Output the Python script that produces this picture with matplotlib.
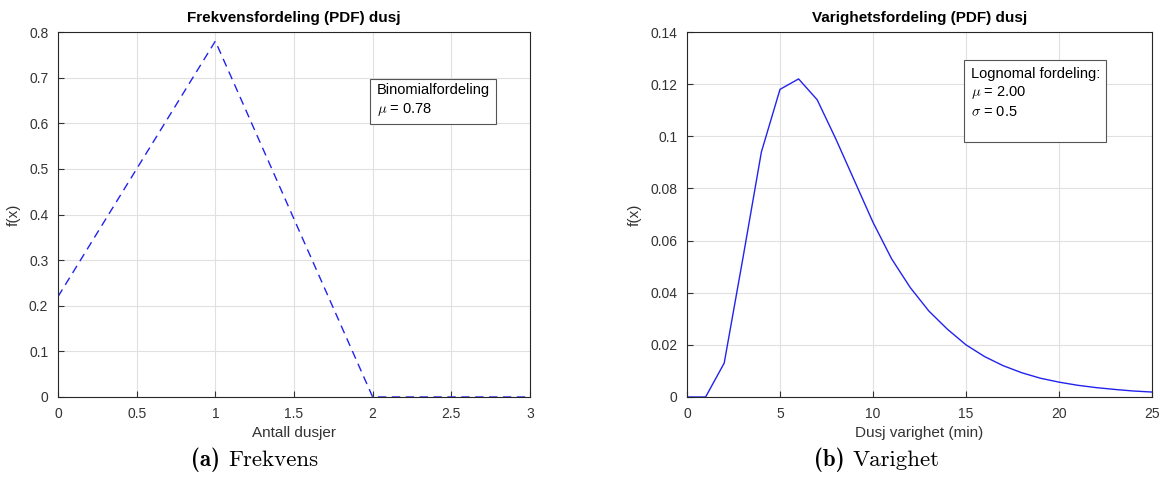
import os
import matplotlib
import matplotlib.pyplot as plt
from matplotlib.font_manager import FontProperties

plt.rcParams['font.family'] = ['Liberation Sans', 'DejaVu Sans']
plt.rcParams['mathtext.fontset'] = 'cm'

# frekvens (binomial)
antall = [0, 1, 2, 3]
frekvens = [0.22, 0.78, 0.0, 0.0]

# varighet (lognormal)
minutter = list(range(26))
varighet = [0.0, 0.0, 0.013, 0.053, 0.094, 0.118, 0.122, 0.114, 0.099, 0.083,
            0.067, 0.053, 0.042, 0.033, 0.026, 0.020, 0.0155, 0.012, 0.0093,
            0.0072, 0.0057, 0.0045, 0.0036, 0.0029, 0.0023, 0.0019]

W, H = 1164, 487
fig = plt.figure(figsize=(W / 100, H / 100), dpi=100)

ttf = os.path.join(matplotlib.get_data_path(), 'fonts', 'ttf')
cm_r = FontProperties(fname=os.path.join(ttf, 'cmr10.ttf'), size=16.5)
cm_b = FontProperties(fname=os.path.join(ttf, 'cmb10.ttf'), size=16.5)

def px_axes(x0, x1, y0, y1):
    return fig.add_axes([x0 / W, 1 - y1 / H, (x1 - x0) / W, (y1 - y0) / H])

def style(ax):
    ax.grid(True, color='#e0e0e0', linewidth=0.8)
    ax.set_axisbelow(True)
    ax.tick_params(direction='in', length=4, labelsize=10, colors='#333333',
                   top=False, right=False, pad=7)
    for s in ax.spines.values():
        s.set_color('#262626')
        s.set_linewidth(0.8)

ax1 = px_axes(58, 530, 32, 397)
ax1.plot(antall, frekvens, '--', color='#2222ee', linewidth=1, dashes=(6, 4))
ax1.set_xlim(0, 3)
ax1.set_ylim(0, 0.8)
ax1.set_xticks([0, 0.5, 1, 1.5, 2, 2.5, 3])
ax1.set_xticklabels(['0', '0.5', '1', '1.5', '2', '2.5', '3'])
ax1.set_yticks([0, 0.1, 0.2, 0.3, 0.4, 0.5, 0.6, 0.7, 0.8])
ax1.set_yticklabels(['0', '0.1', '0.2', '0.3', '0.4', '0.5', '0.6', '0.7', '0.8'])
ax1.set_title('Frekvensfordeling (PDF) dusj', fontsize=11, fontweight='bold', pad=7)
ax1.set_xlabel('Antall dusjer', fontsize=11, color='#333333', labelpad=4)
ax1.set_ylabel('f(x)', fontsize=11, color='#333333', labelpad=6)
style(ax1)
ax1.text(0.675, 0.86, 'Binomialfordeling\n$\\mu$ = 0.78', transform=ax1.transAxes,
         fontsize=10.5, va='top', ha='left', linespacing=1.3,
         bbox=dict(boxstyle='square,pad=0.45', fc='white', ec='#555555', lw=0.8))

ax2 = px_axes(687, 1152, 32, 397)
ax2.plot(minutter, varighet, '-', color='#2222ee', linewidth=1)
ax2.set_xlim(0, 25)
ax2.set_ylim(0, 0.14)
ax2.set_xticks([0, 5, 10, 15, 20, 25])
ax2.set_yticks([0, 0.02, 0.04, 0.06, 0.08, 0.1, 0.12, 0.14])
ax2.set_yticklabels(['0', '0.02', '0.04', '0.06', '0.08', '0.1', '0.12', '0.14'])
ax2.set_title('Varighetsfordeling (PDF) dusj', fontsize=11, fontweight='bold', pad=7)
ax2.set_xlabel('Dusj varighet (min)', fontsize=11, color='#333333', labelpad=4)
ax2.set_ylabel('f(x)', fontsize=11, color='#333333', labelpad=6)
style(ax2)
ax2.text(0.61, 0.905, 'Lognomal fordeling:\n$\\mu$ = 2.00\n$\\sigma$ = 0.5\n ',
         transform=ax2.transAxes, fontsize=10.5, va='top', ha='left', linespacing=1.3,
         bbox=dict(boxstyle='square,pad=0.45', fc='white', ec='#555555', lw=0.8))

# undertekster
cap_y = 1 - 460 / H
fig.text(220 / W, cap_y, '(a)', ha='right', va='center', fontproperties=cm_b)
fig.text(228 / W, cap_y, 'Frekvens', ha='left', va='center', fontproperties=cm_r)
fig.text(845 / W, cap_y, '(b)', ha='right', va='center', fontproperties=cm_b)
fig.text(853 / W, cap_y, 'Varighet', ha='left', va='center', fontproperties=cm_r)

fig.savefig('out.png', dpi=100)
